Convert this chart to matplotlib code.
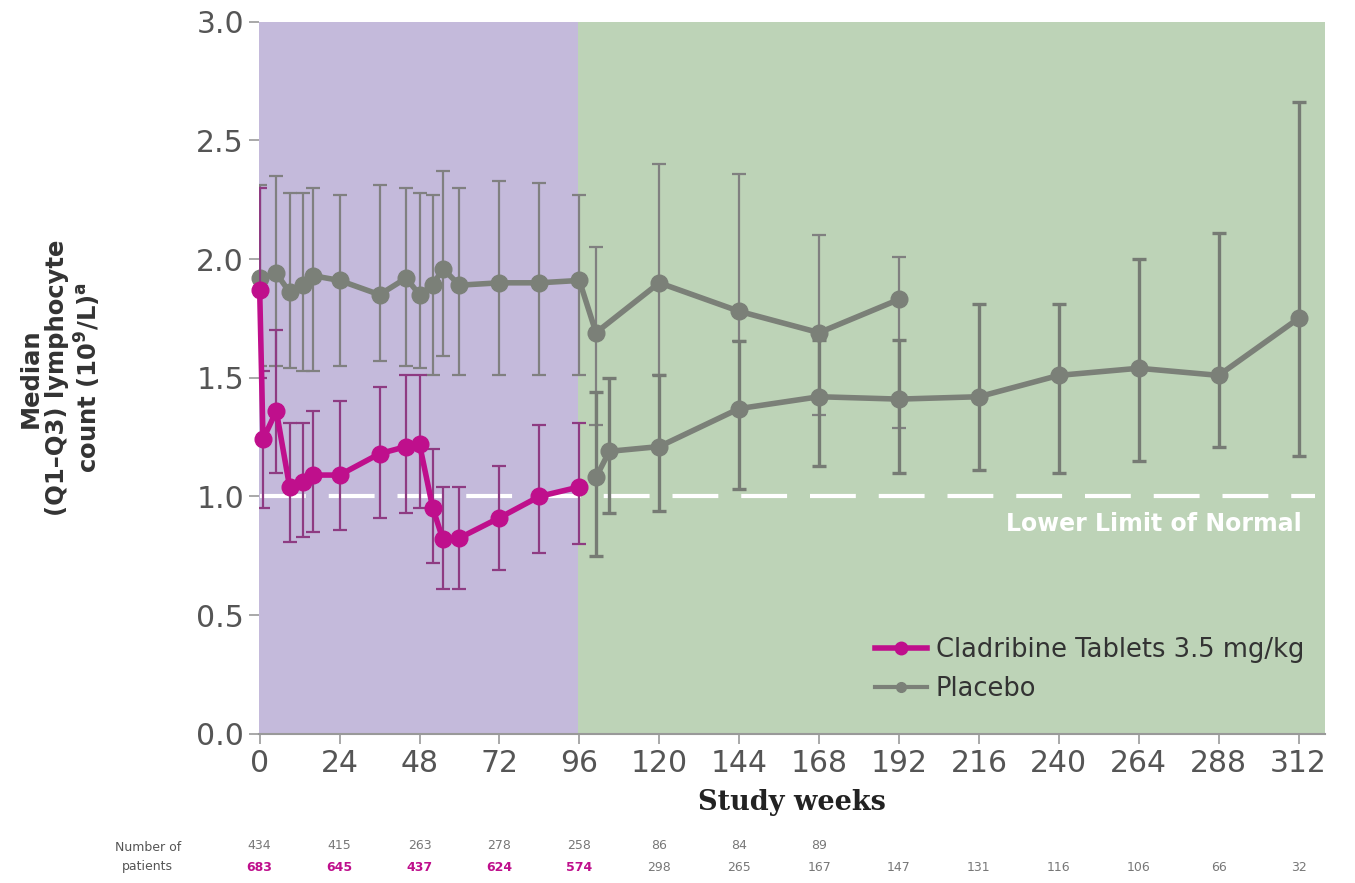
import numpy as np
import matplotlib
matplotlib.use("Agg")
from matplotlib import pyplot as plt
from matplotlib.lines import Line2D
from matplotlib import transforms

# cladribine 3.5 mg/kg (core study, weeks 0-96)
clad_weeks = [0, 1, 5, 9, 13, 16, 24, 36, 44, 48, 52, 55, 60, 72, 84, 96]
clad_med = [1.87, 1.24, 1.36, 1.04, 1.06, 1.09, 1.09, 1.18, 1.21, 1.22, 0.95, 0.82, 0.825, 0.91, 1.00, 1.04]
clad_q1 = [1.50, 0.95, 1.10, 0.81, 0.83, 0.85, 0.86, 0.91, 0.93, 0.95, 0.72, 0.61, 0.61, 0.69, 0.76, 0.80]
clad_q3 = [2.30, 1.53, 1.70, 1.31, 1.31, 1.36, 1.40, 1.46, 1.51, 1.51, 1.20, 1.04, 1.04, 1.13, 1.30, 1.31]

# placebo
pbo_weeks = [0, 5, 9, 13, 16, 24, 36, 44, 48, 52, 55, 60, 72, 84, 96, 101, 120, 144, 168, 192]
pbo_med = [1.92, 1.94, 1.86, 1.89, 1.93, 1.91, 1.85, 1.92, 1.85, 1.89, 1.96, 1.89, 1.90, 1.90, 1.91,
           1.69, 1.90, 1.78, 1.69, 1.83]
pbo_q1 = [1.55, 1.55, 1.54, 1.53, 1.53, 1.55, 1.57, 1.55, 1.54, 1.51, 1.59, 1.51, 1.51, 1.51, 1.51,
          1.30, 1.51, 1.655, 1.345, 1.29]
pbo_q3 = [2.31, 2.35, 2.28, 2.28, 2.30, 2.27, 2.31, 2.30, 2.28, 2.27, 2.37, 2.30, 2.33, 2.32, 2.27,
          2.05, 2.40, 2.36, 2.10, 2.01]

# cladribine group after week 96 (extension)
ext_weeks = [101, 105, 120, 144, 168, 192, 216, 240, 264, 288, 312]
ext_med = [1.08, 1.19, 1.21, 1.37, 1.42, 1.41, 1.42, 1.51, 1.54, 1.51, 1.75]
ext_q1 = [0.75, 0.93, 0.94, 1.03, 1.13, 1.10, 1.11, 1.10, 1.15, 1.21, 1.17]
ext_q3 = [1.44, 1.50, 1.51, 1.655, 1.66, 1.66, 1.81, 1.81, 2.00, 2.11, 2.66]

# number of patients
n_weeks = [0, 24, 48, 72, 96, 120, 144, 168, 192, 216, 240, 264, 288, 312]
n_top = ['434', '415', '263', '278', '258', '86', '84', '89']
n_bottom = ['683', '645', '437', '624', '574', '298', '265', '167', '147', '131', '116', '106', '66', '32']

MAGENTA = '#bf0f8c'
MAG_ERR = '#8e3b82'
GREY = '#7b8078'
PURPLE_BG = '#c4badb'
GREEN_BG = '#bdd3b7'

fig = plt.figure(figsize=(13.55, 8.83), dpi=100)
ax = fig.add_axes([0.1914, 0.169, 0.7866, 0.8064])

ax.set_xlim(-0.1, 320)
ax.set_ylim(0, 3.0)
ax.axvspan(-0.1, 95.5, color=PURPLE_BG, zorder=0, lw=0)
ax.axvspan(95.5, 320, color=GREEN_BG, zorder=0, lw=0)

# lower limit of normal
ax.plot([0, 317], [1.0, 1.0], color='white', lw=3, dashes=(11, 5.5), zorder=2)
ax.text(313, 0.885, 'Lower Limit of Normal', color='white', fontsize=17, fontweight='bold',
        ha='right', va='center', zorder=2)


def series(x, y, lo, hi, color, ecolor, elw, lw, ms, z):
    y = np.array(y)
    err = [y - np.array(lo), np.array(hi) - y]
    ax.errorbar(x, y, yerr=err, fmt='none', ecolor=ecolor, elinewidth=elw, capsize=5,
                capthick=elw, zorder=z)
    ax.plot(x, y, color=color, lw=lw, marker='o', ms=ms, zorder=z + 0.5, clip_on=False)


series(pbo_weeks, pbo_med, pbo_q1, pbo_q3, GREY, '#808080', 1.6, 4, 12, 3)
series(ext_weeks, ext_med, ext_q1, ext_q3, GREY, '#767b74', 2.4, 4, 12, 3)
series(clad_weeks, clad_med, clad_q1, clad_q3, MAGENTA, MAG_ERR, 1.6, 4, 12, 5)

for s in ['top', 'right', 'left']:
    ax.spines[s].set_visible(False)
ax.spines['bottom'].set_color('#999999')
ax.spines['bottom'].set_linewidth(1.5)

ax.set_xticks(n_weeks)
ax.set_yticks(np.arange(0, 3.01, 0.5))
ax.set_yticklabels([f'{v:.1f}' for v in np.arange(0, 3.01, 0.5)])
ax.tick_params(labelsize=21.5, colors='#999999', labelcolor='#555555', length=7, width=1.2, pad=4)

ax.set_xlabel('Study weeks', fontsize=19.5, fontweight='bold', family='DejaVu Serif',
              color='#222222', labelpad=8)

fig.text(0.045, 0.572, 'Median\n(Q1\u2013Q3) lymphocyte\ncount (10$^{\\mathbf{9}}$/L)$^{\\mathbf{a}}$',
         rotation=90, ha='center', va='center', multialignment='center',
         fontsize=17.5, fontweight='bold', color='#333333', linespacing=1.15)

handles = [Line2D([], [], color=MAGENTA, lw=4, marker='o', ms=9),
           Line2D([], [], color=GREY, lw=3, marker='o', ms=7)]
ax.legend(handles, ['Cladribine Tablets 3.5 mg/kg', 'Placebo'], loc='center left',
          bbox_to_anchor=(0.578, 0.09), frameon=False, fontsize=18.5, handlelength=2.0,
          handletextpad=0.35, labelspacing=0.5, labelcolor='#333333',
          borderaxespad=0, borderpad=0)

# number of patients table
trans = transforms.blended_transform_factory(ax.transData, fig.transFigure)
fig.text(0.109, 0.03, 'Number of\npatients', ha='center', va='center', fontsize=9,
         color='#555555', linespacing=1.6)
for i, w in enumerate(n_weeks):
    if i < len(n_top):
        ax.text(w, 0.042, n_top[i], transform=trans, ha='center', va='center',
                fontsize=9, color='#777777', clip_on=False)
    ax.text(w, 0.017, n_bottom[i], transform=trans, ha='center', va='center',
            fontsize=9, color=MAGENTA if i < 5 else '#777777', clip_on=False,
            fontweight='bold' if i < 5 else 'normal')

fig.savefig('out.png', dpi=100)
